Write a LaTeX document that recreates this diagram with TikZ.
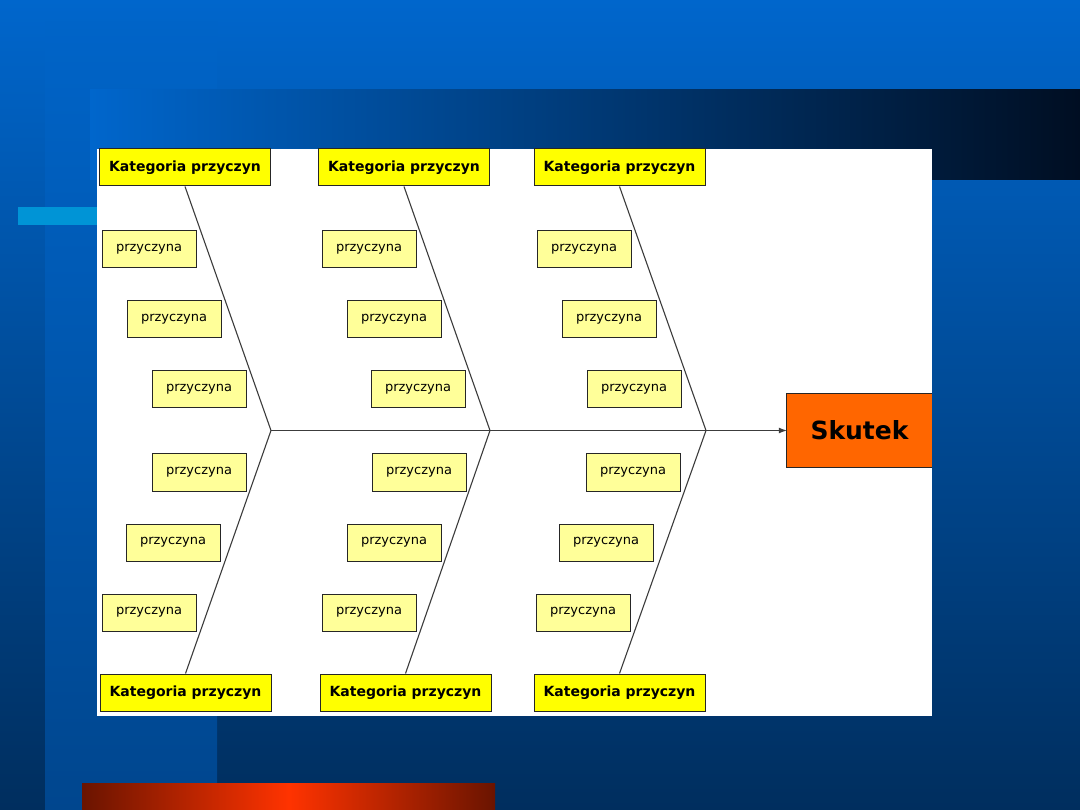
\documentclass[tikz,border=0pt]{standalone}
\usepackage{fontspec}
\setmainfont{DejaVu Sans}
\usetikzlibrary{arrows.meta}
\definecolor{bgtop}{HTML}{0066CC}
\definecolor{bgbot}{HTML}{002E5E}
\definecolor{bandtop}{HTML}{0064C8}
\definecolor{bandbot}{HTML}{00468E}
\definecolor{darkend}{HTML}{000E22}
\definecolor{cyanstrip}{HTML}{0094D6}
\definecolor{redmid}{HTML}{FF3300}
\definecolor{redend}{HTML}{6A1400}
\definecolor{katfill}{HTML}{FFFF00}
\definecolor{causefill}{HTML}{FFFF99}
\definecolor{effectfill}{HTML}{FF6600}
\definecolor{boneline}{HTML}{3C3C3C}
\begin{document}
\begin{tikzpicture}[x=1pt,y=-1pt,
  katbox/.style={draw=black!85, line width=1pt, fill=katfill, minimum width=171pt, minimum height=37pt, inner sep=0pt, font=\fontsize{14}{16}\selectfont\bfseries},
  causebox/.style={draw=black!85, line width=1pt, fill=causefill, minimum width=94pt, minimum height=37pt, inner sep=0pt, font=\fontsize{13}{15}\selectfont},
  bone/.style={draw=boneline, line width=1.1pt}]
\useasboundingbox (0,0) rectangle (1080,810);
% background
\shade[top color=bgtop, bottom color=bgbot] (0,0) rectangle (1080,810);
\shade[top color=bandtop, bottom color=bandbot] (45,22) rectangle (217,810);
\shade[left color=bgtop, right color=darkend] (90,90) rectangle (1080,180);
\fill[cyanstrip] (18,207) rectangle (98,225);
\shade[left color=redend, right color=redend, middle color=redmid] (82,783) rectangle (495,810);
% white panel
\fill[white] (97,149) rectangle (932,716);
% category boxes
\node[katbox] (k1t) at (185,167.5) {Kategoria przyczyn};
\node[katbox] (k2t) at (404,167.5) {Kategoria przyczyn};
\node[katbox] (k3t) at (619.5,167.5) {Kategoria przyczyn};
\node[katbox] (k1b) at (185.5,692.5) {Kategoria przyczyn};
\node[katbox] (k2b) at (405.5,692.5) {Kategoria przyczyn};
\node[katbox] (k3b) at (619.5,692.5) {Kategoria przyczyn};
% joints on spine
\coordinate (j1) at (271,430.5);
\coordinate (j2) at (490,430.5);
\coordinate (j3) at (706,430.5);
% bones
\draw[bone] (k1t.south) -- (j1) -- (k1b.north);
\draw[bone] (k2t.south) -- (j2) -- (k2b.north);
\draw[bone] (k3t.south) -- (j3) -- (k3b.north);
% effect
\node[fill=effectfill, minimum width=145pt, minimum height=74pt, inner sep=0pt, font=\fontsize{25}{28}\selectfont\bfseries] (sk) at (859.5,430.5) {Skutek};
\draw[draw=black!85, line width=1pt] (sk.north east) -- (sk.north west) -- (sk.south west) -- (sk.south east);
\draw[bone, -{Latex[length=8pt,width=6pt]}] (j1) -- (sk.west);
% causes column 1
\node[causebox] (c11) at (149,249.5) {przyczyna};
\node[causebox] (c12) at (174,319.5) {przyczyna};
\node[causebox] (c13) at (199,389.5) {przyczyna};
\node[causebox] (c14) at (199,472.5) {przyczyna};
\node[causebox] (c15) at (173,542.5) {przyczyna};
\node[causebox] (c16) at (149,612.5) {przyczyna};
% causes column 2
\node[causebox] (c21) at (369,249.5) {przyczyna};
\node[causebox] (c22) at (394,319.5) {przyczyna};
\node[causebox] (c23) at (418,389.5) {przyczyna};
\node[causebox] (c24) at (419,472.5) {przyczyna};
\node[causebox] (c25) at (394,542.5) {przyczyna};
\node[causebox] (c26) at (369,612.5) {przyczyna};
% causes column 3
\node[causebox] (c31) at (584,249.5) {przyczyna};
\node[causebox] (c32) at (609,319.5) {przyczyna};
\node[causebox] (c33) at (634,389.5) {przyczyna};
\node[causebox] (c34) at (633,472.5) {przyczyna};
\node[causebox] (c35) at (606,542.5) {przyczyna};
\node[causebox] (c36) at (583,612.5) {przyczyna};
\end{tikzpicture}
\end{document}
